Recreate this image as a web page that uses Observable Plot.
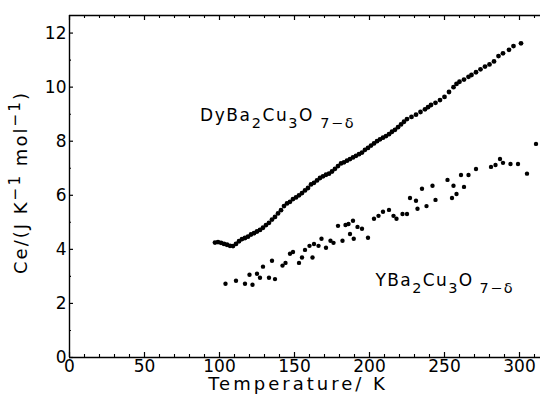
<!DOCTYPE html>
<html><head><meta charset="utf-8">
<script src="https://cdn.jsdelivr.net/npm/d3@7"></script>
<script src="https://cdn.jsdelivr.net/npm/@observablehq/plot@0.6"></script>
<style>
html,body{margin:0;padding:0;background:#fff}
#chart svg{display:block}
</style>
</head><body><div id="chart"></div>
<script>
// DyBa2Cu3O7-δ series: temperature (K) and Ce (J K^-1 mol^-1)
const dyT = [97,99,101,103,105,107,109,111,113,115,117,119,121,123,125,127,129,131,133,135,137,139,141,143,145,147,149,151,153,155,157,159,161,163,165,167,169,171,173,175,177,179,181,183,185,187,189,191,193,195,197,199,201,203,205,207,209,211,213,215,217,219,221,223,225,228,231,234,237,239,241,244,247,250,253,256,258,260,263,266,268,271,274,277,280,283,286,289,293,296,301];
const dyC = [4.25,4.27,4.24,4.20,4.17,4.13,4.12,4.20,4.30,4.38,4.42,4.47,4.55,4.60,4.66,4.72,4.80,4.90,4.98,5.10,5.20,5.33,5.45,5.60,5.70,5.76,5.86,5.92,6.00,6.08,6.18,6.27,6.40,6.46,6.55,6.64,6.70,6.76,6.80,6.88,6.98,7.08,7.18,7.22,7.28,7.34,7.40,7.46,7.52,7.58,7.68,7.75,7.84,7.92,8.00,8.07,8.13,8.19,8.26,8.35,8.42,8.52,8.62,8.72,8.82,8.90,8.98,9.08,9.18,9.26,9.34,9.42,9.52,9.64,9.82,10.00,10.12,10.20,10.28,10.38,10.45,10.55,10.66,10.76,10.84,10.95,11.15,11.25,11.38,11.52,11.62];

// YBa2Cu3O7-δ series
const ybT = [104,111,117,120,122,125,127,129,133,135,137,142,144,147,149,153,155,157,160,162,163,166,168,171,174,176,179,182,184,186,187,189,189.5,192,195,199,203,206,209,213,216,218,222,225,227,231,232,235,238,242,244,252,255,256,258,261,263,266,271,281,284,287,289,294,299,305,311];
const ybC = [2.73,2.84,2.73,3.06,2.69,3.10,2.95,3.36,2.95,3.58,2.90,3.40,3.50,3.84,3.90,3.50,3.70,3.98,4.13,3.70,4.20,4.13,4.39,4.06,4.32,4.24,4.87,4.32,4.90,4.94,4.57,5.06,4.39,4.83,4.76,4.43,5.13,5.24,5.39,5.46,5.24,5.13,5.31,5.31,5.90,5.80,5.50,6.24,5.60,6.35,5.83,6.57,5.90,6.35,6.05,6.75,6.31,6.75,6.97,7.05,7.12,7.34,7.20,7.16,7.16,6.80,7.90];

// axis ticks
const xMajorTicks = [0,50,100,150,200,250,300];
const xMinorTicks = [10,20,30,40,60,70,80,90,110,120,130,140,160,170,180,190,210,220,230,240,260,270,280,290,310];
const yMajorTicks = [0,2,4,6,8,10,12];
const yMinorTicks = [1,3,5,7,9,11];

// annotations (data coordinates of label anchors)
const labelNames = ["DyBa_2Cu_3O_{ 7−δ}", "YBa_2Cu_3O_{ 7−δ}"];
const labelT = [87, 204];
const labelC = [8.95, 2.86];

const xTitle = "Temperature/ K";
const yTitle = "Ce/(J K^{−1} mol^{−1})";

const xDomain = [0, 314];
const yDomain = [0, 12.65];

const dyData = dyT.map((t, i) => ({T: t, C: dyC[i]}));
const ybData = ybT.map((t, i) => ({T: t, C: ybC[i]}));
const labels = labelNames.map((s, i) => ({T: labelT[i], C: labelC[i], s}));

const W = 542, H = 402, mL = 69, mR = 2, mT = 15, mB = 45;
const fw = W - mL - mR, fh = H - mT - mB;
const FONT = "DejaVu Sans";

const chart = Plot.plot({
  width: W, height: H,
  marginLeft: mL, marginRight: mR, marginTop: mT, marginBottom: mB,
  style: {fontFamily: FONT, fontSize: "17px", color: "#000", background: "#fff"},
  x: {domain: xDomain, label: null},
  y: {domain: yDomain, label: null},
  marks: [
    // frame lines (left, bottom, top)
    Plot.ruleX([xDomain[0]], {stroke: "#000", strokeWidth: 1.4}),
    Plot.ruleY([yDomain[0]], {stroke: "#000", strokeWidth: 1.4}),
    Plot.ruleY([yDomain[1]], {stroke: "#000", strokeWidth: 1.4}),
    // inward ticks bottom
    Plot.tickX(xMajorTicks, {x: d => d, insetTop: fh - 5, stroke: "#000", strokeWidth: 1.2}),
    Plot.tickX(xMinorTicks, {x: d => d, insetTop: fh - 3, stroke: "#000", strokeWidth: 1.1}),
    // inward ticks top
    Plot.tickX(xMajorTicks, {x: d => d, insetBottom: fh - 5, stroke: "#000", strokeWidth: 1.2}),
    Plot.tickX(xMinorTicks, {x: d => d, insetBottom: fh - 3, stroke: "#000", strokeWidth: 1.1}),
    // inward ticks left
    Plot.tickY(yMajorTicks, {y: d => d, insetRight: fw - 4, stroke: "#000", strokeWidth: 1.2}),
    Plot.tickY(yMinorTicks, {y: d => d, insetRight: fw - 2, stroke: "#000", strokeWidth: 1.1}),
    // tick labels
    Plot.axisX({ticks: xMajorTicks, tickSize: 0, tickPadding: 2, fontSize: 17, label: null}),
    Plot.axisY({ticks: yMajorTicks, tickSize: 0, tickPadding: 3, fontSize: 17, label: null}),
    // data
    Plot.dot(dyData, {x: "T", y: "C", r: 2.4, fill: "#000", stroke: "none"}),
    Plot.dot(ybData, {x: "T", y: "C", r: 2.2, fill: "#000", stroke: "none"}),
    // compound labels
    Plot.text(labels, {x: "T", y: "C", text: "s", textAnchor: "start", lineAnchor: "middle", fontSize: 17, fill: "#000"}),
    // axis titles
    Plot.text([xTitle], {frameAnchor: "bottom", textAnchor: "middle", dx: -7, dy: 27, lineAnchor: "middle", fontSize: 18, fill: "#000"}),
    Plot.text([yTitle], {frameAnchor: "left", textAnchor: "middle", dx: -48, dy: -4, rotate: -90, lineAnchor: "middle", fontSize: 18, fill: "#000"})
  ]
});

// turn _x / _{..} / ^{..} into real sub/superscript tspans
const spacing = new Map([[xTitle, "3px"], [yTitle, "2px"], [labelNames[0], "1.6px"], [labelNames[1], "1.4px"]]);
chart.querySelectorAll("text").forEach(t => {
  const s = t.textContent;
  if (spacing.has(s)) t.setAttribute("letter-spacing", spacing.get(s));
  if (!/[_^]/.test(s)) return;
  const parts = [];
  let i = 0;
  while (i < s.length) {
    const c = s[i];
    if (c === "_" || c === "^") {
      let content;
      if (s[i + 1] === "{") { const j = s.indexOf("}", i + 2); content = s.slice(i + 2, j); i = j + 1; }
      else { content = s[i + 1]; i += 2; }
      parts.push({t: content, k: c});
    } else {
      let j = i;
      while (j < s.length && s[j] !== "_" && s[j] !== "^") j++;
      parts.push({t: s.slice(i, j), k: ""});
      i = j;
    }
  }
  while (t.firstChild) t.removeChild(t.firstChild);
  let shift = 0;
  for (const p of parts) {
    const ts = document.createElementNS("http://www.w3.org/2000/svg", "tspan");
    const target = p.k === "_" ? 7 : p.k === "^" ? -7 : 0;
    const d = target - shift;
    if (d !== 0) ts.setAttribute("dy", d);
    shift = target;
    if (p.k) ts.setAttribute("font-size", "0.85em");
    ts.textContent = p.t;
    t.appendChild(ts);
  }
});

document.getElementById("chart").appendChild(chart);
</script>
</body></html>
